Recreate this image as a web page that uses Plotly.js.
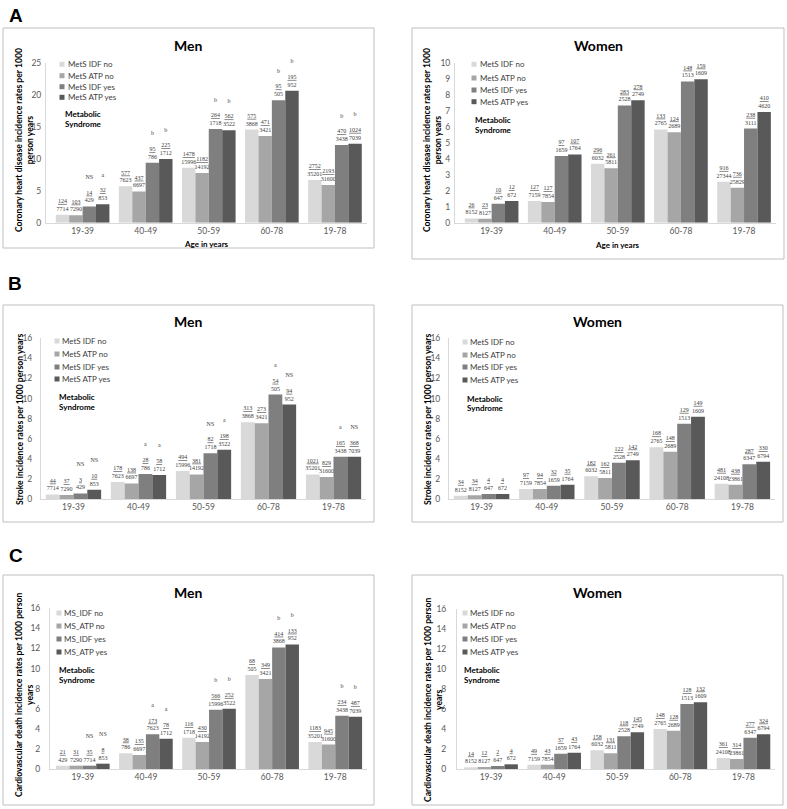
<!DOCTYPE html>
<html><head><meta charset="utf-8">
<script src="https://cdn.plot.ly/plotly-3.0.1.min.js"></script>
<style>html,body{margin:0;padding:0;background:#fff}</style>
</head><body><div id="chart" style="width:787px;height:809px"></div>
<script>
const ageGroups = ['19-39','40-49','50-59','60-78','19-78'];
const seriesMetS = ['MetS IDF no','MetS ATP no','MetS IDF yes','MetS ATP yes'];
const seriesMS = ['MS_IDF no','MS_ATP no','MS_IDF yes','MS_ATP yes'];

// A: coronary heart disease, men (rows: IDF no, ATP no, IDF yes, ATP yes)
const chdMenRates = [
  [1.25, 5.7, 8.6, 14.6, 6.7],
  [1.15, 4.9, 7.8, 13.6, 5.9],
  [2.55, 9.4, 14.7, 19.2, 12.2],
  [2.9, 10.0, 14.5, 20.7, 12.4]
];
const chdMenCases = [
  ['124','577','1478','575','2752'],
  ['103','437','1182','471','2193'],
  ['14','95','264','95','470'],
  ['32','225','562','195','1024']
];
const chdMenN = [
  ['7714','7623','15996','3868','35201'],
  ['7290','6697','14192','3421','31600'],
  ['429','786','1718','505','3438'],
  ['853','1712','3522','952','7039']
];
const chdMenSig = [
  ['','','','',''],
  ['','','','',''],
  ['NS','b','b','b','b'],
  ['a','b','b','b','b']
];

// A: coronary heart disease, women
const chdWomenRates = [
  [0.27, 1.35, 3.69, 5.83, 2.56],
  [0.25, 1.3, 3.4, 5.65, 2.19],
  [1.19, 4.17, 7.33, 8.83, 5.88],
  [1.35, 4.27, 7.65, 8.96, 6.92]
];
const chdWomenCases = [
  ['26','127','296','133','916'],
  ['23','127','261','124','736'],
  ['10','97','283','148','238'],
  ['12','107','278','159','410']
];
const chdWomenN = [
  ['8152','7159','6032','2765','27344'],
  ['8127','7854','5811','2689','25829'],
  ['647','1659','2528','1513','3111'],
  ['672','1764','2749','1609','4620']
];

// B: stroke, men
const strokeMenRates = [
  [0.46, 1.7, 2.8, 7.65, 2.45],
  [0.4, 1.55, 2.45, 7.55, 2.2],
  [0.56, 2.5, 4.55, 10.4, 4.2],
  [0.93, 2.4, 4.9, 9.4, 4.2]
];
const strokeMenCases = [
  ['44','178','494','313','1021'],
  ['37','138','381','273','829'],
  ['3','28','82','54','165'],
  ['10','58','198','94','368']
];
const strokeMenN = [
  ['7714','7623','15996','3868','35201'],
  ['7290','6697','14192','3421','31600'],
  ['429','786','1718','505','3438'],
  ['853','1712','3522','952','7039']
];
const strokeMenSig = [
  ['','','','',''],
  ['','','','',''],
  ['NS','a','NS','a','a'],
  ['NS','a','a','NS','NS']
];

// B: stroke, women
const strokeWomenRates = [
  [0.33, 1.0, 2.26, 5.15, 1.53],
  [0.37, 1.0, 2.1, 4.7, 1.43],
  [0.5, 1.33, 3.6, 7.5, 3.45],
  [0.5, 1.43, 3.85, 8.2, 3.7]
];
const strokeWomenCases = [
  ['34','97','182','168','481'],
  ['34','94','162','148','438'],
  ['4','32','122','129','287'],
  ['4','35','142','149','330']
];
const strokeWomenN = [
  ['8152','7159','6032','2765','24108'],
  ['8127','7854','5811','2689','23861'],
  ['647','1659','2528','1513','6347'],
  ['672','1764','2749','1609','6794']
];

// C: cardiovascular death, men
const cvdMenRates = [
  [0.33, 1.56, 3.1, 9.37, 2.7],
  [0.33, 1.4, 2.7, 8.97, 2.43],
  [0.33, 3.45, 5.9, 12.1, 5.3],
  [0.53, 3.0, 6.0, 12.4, 5.2]
];
const cvdMenCases = [
  ['21','38','116','68','1183'],
  ['31','135','430','349','945'],
  ['35','173','566','414','234'],
  ['8','78','252','133','487']
];
const cvdMenN = [
  ['429','786','1718','505','35201'],
  ['7290','6697','14192','3421','31600'],
  ['7714','7623','15996','3868','3438'],
  ['853','1712','3522','952','7039']
];
const cvdMenSig = [
  ['','','','',''],
  ['','','','',''],
  ['NS','a','b','b','b'],
  ['NS','a','b','b','b']
];

// C: cardiovascular death, women
const cvdWomenRates = [
  [0.17, 0.43, 1.87, 4.0, 1.1],
  [0.2, 0.43, 1.57, 3.84, 1.0],
  [0.3, 1.53, 3.27, 6.5, 3.14],
  [0.47, 1.63, 3.67, 6.68, 3.47]
];
const cvdWomenCases = [
  ['14','49','158','148','361'],
  ['12','43','131','128','314'],
  ['2','37','118','128','277'],
  ['4','43','145','132','324']
];
const cvdWomenN = [
  ['8152','7159','6032','2765','24108'],
  ['8127','7854','5811','2689','23861'],
  ['647','1659','2528','1513','6347'],
  ['672','1764','2749','1609','6794']
];

const yTitles = [
  'Coronary heart disease incidence rates per 1000<br>person years',
  'Stroke incidence rates per 1000 person years',
  'Cardiovascular death incidence rates per 1000 person<br>years'
];
const panelLetters = ['A','B','C'];

// ---- drawing ----
const W = 787, H = 809;
const fx = p => p / W, fy = p => 1 - p / H;
const colors = ['#d9d9d9','#a6a6a6','#7f7f7f','#595959'];
const FONT = 'Lato, "Open Sans", sans-serif';
const SERIF = '"Liberation Serif", "DejaVu Serif", serif';

const panels = [
  {rates: chdMenRates, cases: chdMenCases, n: chdMenN, sig: chdMenSig, names: seriesMetS, title: 'Men', yt: yTitles[0], ytSize: 8.6,
   x0: 46, x1: 366.5, xr: [-0.58, 4.5], yT: 63.3, yB: 222.7, ymax: 25, dt: 5, sto: 2,
   box: [3, 28, 374, 248], tXY: [188, 45], ytXY: [24, 140], sw: 62, lx: 66, ly: [64.3, 75.7, 86.7, 97.3], mx: 63, my: [114, 124], age: [206, 244]},
  {rates: chdWomenRates, cases: chdWomenCases, n: chdWomenN, sig: null, names: seriesMetS, title: 'Women', yt: yTitles[0], ytSize: 8.6,
   x0: 455, x1: 775.6, xr: [-0.58, 4.5], yT: 62.7, yB: 222.7, ymax: 10, dt: 1, sto: 2,
   box: [412, 28, 784, 259], tXY: [598, 45], ytXY: [432, 140], sw: 474, lx: 478, ly: [64.3, 78, 90, 101.7], mx: 473, my: [120, 129.5], age: [617, 245]},
  {rates: strokeMenRates, cases: strokeMenCases, n: strokeMenN, sig: strokeMenSig, names: seriesMetS, title: 'Men', yt: yTitles[1], ytSize: 8.6,
   x0: 41, x1: 366, xr: [-0.5, 4.5], yT: 338.3, yB: 499, ymax: 16, dt: 2, sto: 6,
   box: [3, 305, 374, 522], tXY: [188, 321], ytXY: [20, 419], sw: 57, lx: 60, ly: [341, 354, 367, 379], mx: 57, my: [397, 407], age: null},
  {rates: strokeWomenRates, cases: strokeWomenCases, n: strokeWomenN, sig: null, names: seriesMetS, title: 'Women', yt: yTitles[1], ytSize: 8.6,
   x0: 449, x1: 775, xr: [-0.5, 4.5], yT: 338.3, yB: 499, ymax: 16, dt: 2, sto: 6,
   box: [412, 305, 783, 522], tXY: [597, 321], ytXY: [428, 419], sw: 465, lx: 468, ly: [342, 355, 367, 380], mx: 465, my: [399, 408], age: null},
  {rates: cvdMenRates, cases: cvdMenCases, n: cvdMenN, sig: cvdMenSig, names: seriesMS, title: 'Men', yt: yTitles[2], ytSize: 8.6,
   x0: 50, x1: 366.8, xr: [-0.52, 4.5], yT: 608.3, yB: 769, ymax: 16, dt: 2, sto: 7,
   box: [3, 575, 374, 805], tXY: [188, 592], ytXY: [24, 695], sw: 59, lx: 62, ly: [613, 626, 639, 652], mx: 57, my: [670, 680], age: null},
  {rates: cvdWomenRates, cases: cvdWomenCases, n: cvdWomenN, sig: null, names: seriesMetS, title: 'Women', yt: yTitles[2], ytSize: 8.6,
   x0: 457, x1: 775, xr: [-0.54, 4.5], yT: 609.3, yB: 769, ymax: 16, dt: 2, sto: 8,
   box: [412, 575, 783, 805], tXY: [597, 592], ytXY: [433, 700], sw: 465, lx: 468, ly: [613, 626, 639, 652], mx: 462, my: [670, 680], age: null}
];

const traces = [];
const annotations = [];
const shapes = [];
const layout = {
  width: W, height: H, margin: {l: 0, r: 0, t: 0, b: 0},
  paper_bgcolor: '#ffffff', plot_bgcolor: 'rgba(0,0,0,0)',
  showlegend: false, barmode: 'group', bargap: 0.15, bargroupgap: 0,
  hovermode: false, font: {family: FONT, color: '#404040'}
};

panels.forEach((p, k) => {
  const s = k === 0 ? '' : String(k + 1);
  const xa = 'x' + s, ya = 'y' + s;
  p.rates.forEach((vals, i) => {
    const txt = vals.map((v, j) => {
      const sg = p.sig && p.sig[i][j] ? p.sig[i][j] + '<br><br>' : '';
      return sg + '<u>' + p.cases[i][j] + '</u><br>' + p.n[i][j];
    });
    traces.push({
      type: 'bar', x: ageGroups, y: vals, name: p.names[i], xaxis: xa, yaxis: ya,
      marker: {color: colors[i], line: {width: 0}},
      text: txt, textposition: 'outside', textangle: 0, constraintext: 'none', cliponaxis: false,
      outsidetextfont: {family: SERIF, size: 6, color: '#404040'}
    });
  });
  layout['xaxis' + s] = {
    domain: [fx(p.x0), fx(p.x1)], range: p.xr, anchor: ya, type: 'category',
    categoryorder: 'array', categoryarray: ageGroups,
    showline: true, linecolor: '#d9d9d9', linewidth: 1, ticks: '', showgrid: false, zeroline: false,
    tickfont: {family: FONT, size: 8.5, color: '#595959'}, fixedrange: true
  };
  layout['yaxis' + s] = {
    domain: [fy(p.yB), fy(p.yT)], range: [0, p.ymax], dtick: p.dt, anchor: xa,
    showline: true, linecolor: '#d9d9d9', linewidth: 1, ticks: '', showgrid: false, zeroline: false,
    ticklabelstandoff: p.sto,
    tickfont: {family: FONT, size: 8.5, color: '#595959'}, fixedrange: true
  };
  // panel frame
  shapes.push({type: 'rect', xref: 'paper', yref: 'paper',
    x0: fx(p.box[0]), x1: fx(p.box[2]), y0: fy(p.box[3]), y1: fy(p.box[1]),
    line: {color: '#bfbfbf', width: 1}});
  // title
  annotations.push({xref: 'paper', yref: 'paper', x: fx(p.tXY[0]), y: fy(p.tXY[1]), text: p.title,
    showarrow: false, xanchor: 'center', yanchor: 'middle', font: {family: FONT, size: 14, color: '#000', weight: 700}});
  // y title
  annotations.push({xref: 'paper', yref: 'paper', x: fx(p.ytXY[0]), y: fy(p.ytXY[1]), text: '<b>' + p.yt + '</b>',
    textangle: -90, showarrow: false, xanchor: 'center', yanchor: 'middle',
    font: {family: FONT, size: p.ytSize, color: '#000'}});
  // x title
  if (p.age) {
    annotations.push({xref: 'paper', yref: 'paper', x: fx(p.age[0]), y: fy(p.age[1]), text: '<b>Age in years</b>',
      showarrow: false, xanchor: 'center', yanchor: 'middle', font: {family: FONT, size: 8, color: '#000'}});
  }
  // legend
  p.names.forEach((nm, i) => {
    const cy = p.ly[i];
    shapes.push({type: 'rect', xref: 'paper', yref: 'paper',
      x0: fx(p.sw - 2.5), x1: fx(p.sw + 2.5), y0: fy(cy + 2.5), y1: fy(cy - 2.5),
      fillcolor: colors[i], line: {width: 0}});
    annotations.push({xref: 'paper', yref: 'paper', x: fx(p.lx), y: fy(cy), text: nm,
      showarrow: false, xanchor: 'left', yanchor: 'middle', font: {family: FONT, size: 8, color: '#404040'}});
  });
  annotations.push({xref: 'paper', yref: 'paper', x: fx(p.mx), y: fy(p.my[0]), text: '<b>Metabolic</b>',
    showarrow: false, xanchor: 'left', yanchor: 'middle', font: {family: FONT, size: 8, color: '#000'}});
  annotations.push({xref: 'paper', yref: 'paper', x: fx(p.mx), y: fy(p.my[1]), text: '<b>Syndrome</b>',
    showarrow: false, xanchor: 'left', yanchor: 'middle', font: {family: FONT, size: 8, color: '#000'}});
});

// panel letters
[[16, 16], [15, 283], [16, 555]].forEach((xy, i) => {
  annotations.push({xref: 'paper', yref: 'paper', x: fx(xy[0]), y: fy(xy[1]), text: '<b>' + panelLetters[i] + '</b>',
    showarrow: false, xanchor: 'center', yanchor: 'middle', font: {family: '"Liberation Sans", Arial, sans-serif', size: 19, color: '#000'}});
});

layout.annotations = annotations;
layout.shapes = shapes;
Plotly.newPlot('chart', traces, layout, {staticPlot: true, displayModeBar: false});
</script>
</body></html>
